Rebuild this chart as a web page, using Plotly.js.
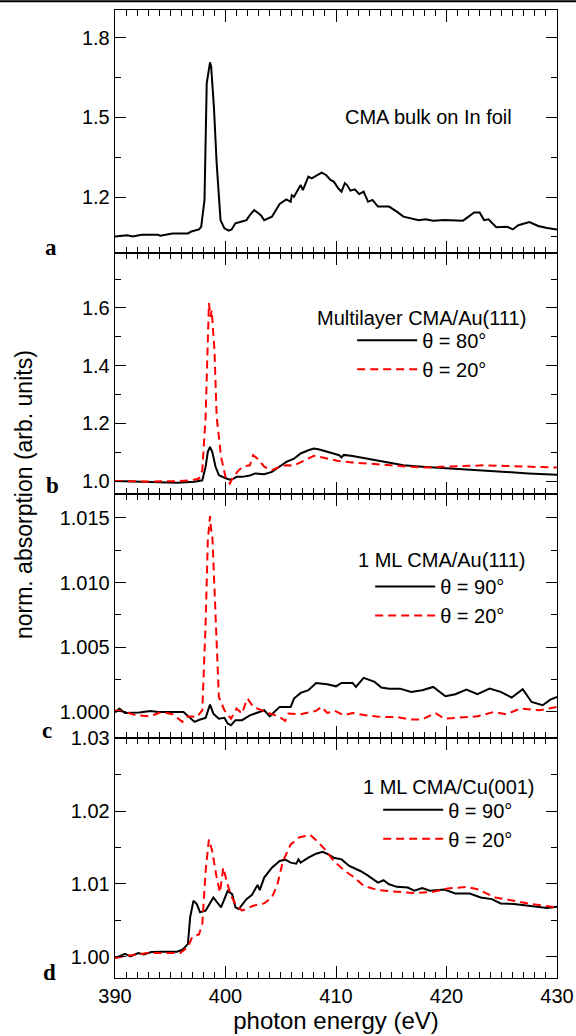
<!DOCTYPE html>
<html>
<head>
<meta charset="utf-8">
<script src="https://cdn.plot.ly/plotly-3.0.1.min.js"></script>
<style>html,body{margin:0;padding:0;background:#fff;}#chart{width:576px;height:1036px;}</style>
</head>
<body>
<div id="chart"></div>
<script>
// ---------- Panel a: CMA bulk on In foil ----------
const aX = [390,391.1,391.6,392.4,393.9,394.1,395.2,396.6,396.9,397.6,397.8,398.1,398.3,398.6,398.7,398.95,399.2,399.4,399.55,399.9,400.3,400.55,400.9,401.4,401.9,402.2,402.6,403.2,403.5,404.2,404.9,405.5,405.9,406.0,406.2,406.8,407.0,407.5,407.8,408.7,409.1,409.5,409.8,410.2,410.5,410.8,411.0,411.3,411.7,412.1,412.5,412.9,413.3,413.8,414.8,415.5,416.1,417.5,418.1,418.8,419.8,421.5,422.1,422.5,423.0,423.4,423.8,424.5,425.5,426.0,426.5,427.5,428.3,429.1,430];
const aY = [1.051,1.056,1.051,1.058,1.058,1.054,1.063,1.063,1.070,1.078,1.088,1.189,1.628,1.707,1.691,1.540,1.327,1.189,1.113,1.082,1.073,1.078,1.101,1.107,1.113,1.132,1.151,1.132,1.113,1.126,1.174,1.191,1.182,1.207,1.201,1.245,1.226,1.277,1.270,1.292,1.283,1.264,1.258,1.233,1.220,1.252,1.245,1.224,1.229,1.211,1.220,1.182,1.189,1.164,1.164,1.145,1.126,1.113,1.116,1.111,1.113,1.111,1.129,1.142,1.142,1.113,1.116,1.086,1.088,1.078,1.094,1.106,1.091,1.083,1.078];

// ---------- Panel b: Multilayer CMA/Au(111) ----------
const bSolidX = [390,392.9,395.6,397.2,397.9,398.2,398.4,398.6,398.8,399.1,399.4,399.9,400.4,400.7,401.0,401.5,402.2,402.7,403.5,404.2,404.9,405.5,406.2,406.8,407.5,408.0,408.5,409.5,410.3,410.5,410.7,411.5,412.8,414.5,416.1,417.8,420.1,422.8,425.4,427.4,430];
const bSolidY = [1.001,0.999,0.995,0.998,1.003,1.050,1.102,1.119,1.102,1.050,1.021,1.012,1.005,1.008,1.015,1.015,1.020,1.027,1.024,1.032,1.052,1.067,1.078,1.096,1.107,1.113,1.110,1.100,1.090,1.082,1.091,1.087,1.078,1.067,1.055,1.050,1.045,1.040,1.032,1.027,1.022];
const bDashX = [390,392.9,395.6,396.9,397.6,397.9,398.2,398.4,398.5,398.65,398.75,399.0,399.2,399.6,400.0,400.4,400.7,401.2,401.7,402.2,402.5,402.9,403.5,404.2,404.9,405.5,406.2,407.2,408.0,408.8,410.2,411.5,412.8,414.5,416.1,417.8,419.5,421.5,423.5,425.4,427.4,430];
const bDashY = [1.001,0.999,1.000,1.003,1.009,1.038,1.223,1.454,1.617,1.569,1.592,1.454,1.223,1.084,1.015,0.992,1.015,1.038,1.052,1.055,1.090,1.078,1.050,1.038,1.050,1.055,1.054,1.073,1.088,1.082,1.070,1.065,1.061,1.055,1.050,1.047,1.050,1.052,1.055,1.053,1.050,1.047];

// ---------- Panel c: 1 ML CMA/Au(111) ----------
const cSolidX = [390,390.4,390.9,392.2,393.2,393.9,396.2,396.6,397.2,397.7,398.2,398.6,398.9,399.4,399.9,400.2,400.5,400.9,401.5,402.2,402.9,403.5,404.0,404.9,405.9,406.2,406.8,407.5,408.2,409.2,410.0,410.5,411.5,411.8,412.5,413.5,414.1,414.8,415.8,416.8,417.8,418.8,419.9,420.8,421.8,422.8,423.9,424.9,425.9,426.9,427.7,428.7,429.4,430];
const cSolidY = [0.99995,1.00026,0.99992,0.99995,1.00008,1.0,1.0,0.99966,0.99923,0.99941,0.99954,1.00057,0.99987,0.99948,0.99954,0.9991,0.99897,0.99936,0.99936,0.99974,0.99992,1.00013,0.99966,1.00039,1.00039,1.00103,1.00147,1.00168,1.00224,1.00214,1.00198,1.00224,1.00224,1.00193,1.00263,1.00232,1.00188,1.0018,1.0018,1.00155,1.00168,1.00193,1.00121,1.00137,1.00173,1.00137,1.0018,1.00155,1.00111,1.00175,1.00077,1.00052,1.00095,1.00116];
const cDashX = [390,390.9,391.9,393.2,394.2,395.2,396.1,396.6,397.4,397.9,398.2,398.4,398.6,398.7,398.8,399.1,399.4,399.9,400.5,401.0,401.5,401.8,402.0,402.5,403.2,403.9,404.9,405.4,405.7,406.8,408.2,408.7,409.2,409.9,410.7,411.5,412.8,414.1,415.5,416.8,417.8,419.0,419.8,421.5,422.8,424.3,425.4,426.7,428.4,430];
const cDashY = [1.00013,1.0,0.99974,0.99966,1.0,0.99982,0.99923,0.99966,0.99961,1.00013,1.00683,1.01327,1.01513,1.01405,1.01379,1.00683,1.00116,1.00013,0.99948,1.00026,0.99987,1.00064,1.00103,1.00039,1.00013,0.99992,0.99961,0.9993,0.99987,0.99982,1.00008,1.00039,0.99992,1.00008,0.99974,0.99992,0.99972,0.99961,0.99961,0.99941,0.99941,0.99992,0.99948,0.99956,0.99966,1.0,0.99982,1.00026,1.00013,1.00039];

// ---------- Panel d: 1 ML CMA/Cu(001) ----------
const dSolidX = [390,390.9,391.4,392.1,392.6,393.3,394.2,395.6,396.1,396.6,396.8,397.1,397.4,397.7,398.2,398.9,399.6,400.2,400.6,400.9,401.2,401.9,402.4,402.9,403.1,403.5,404.2,404.9,405.4,405.9,406.4,406.6,406.8,407.5,408.2,408.8,409.3,409.8,410.5,411.2,412.2,412.8,413.8,414.3,414.8,415.5,416.5,417.1,417.8,418.5,419.8,420.8,422.1,423.1,424.1,424.9,426.1,427.4,429.1,430];
const dSolidY = [0.99982,1.00041,1.00005,1.0005,1.00032,1.00064,1.00068,1.00068,1.00095,1.00177,1.00541,1.00768,1.00723,1.00609,1.00632,1.00814,1.00677,1.00905,1.00859,1.00677,1.00655,1.00791,1.0085,1.00986,1.00914,1.01086,1.01223,1.01314,1.01332,1.01291,1.01277,1.01336,1.01291,1.01359,1.01414,1.01441,1.01405,1.01359,1.01336,1.01245,1.01177,1.01123,1.01018,1.0105,1.00995,1.00959,1.0095,1.00905,1.00941,1.00905,1.00923,1.00868,1.00868,1.00814,1.00791,1.00732,1.00723,1.007,1.00668,1.00686];
const dDashX = [390,391.3,392.9,394.6,395.9,396.6,397.0,397.6,397.9,398.2,398.5,398.8,399.2,399.5,399.8,400.1,400.5,401.0,401.5,402.5,403.5,404.2,404.7,405.2,405.9,406.7,407.7,408.3,409.0,409.8,410.8,411.6,412.5,413.8,415.5,417.1,418.8,420.1,421.8,422.8,424.4,426.1,427.7,430];
const dDashY = [0.99982,1.00018,1.0005,1.00055,1.0005,1.00132,1.00277,1.00305,1.0045,1.01177,1.01609,1.0145,1.01086,1.00882,1.01223,1.01041,1.00836,1.007,1.00632,1.007,1.00732,1.00814,1.00995,1.01314,1.01541,1.01641,1.01668,1.01586,1.01473,1.01314,1.01177,1.01095,1.00973,1.00914,1.00895,1.00873,1.00891,1.00936,1.00959,1.00927,1.00814,1.00768,1.00723,1.00677];

// tick labels / texts
const xTickVals = [390,400,410,420,430];
const panelLabels = ['a','b','c','d'];
const panelTitles = ['CMA bulk on In foil','Multilayer CMA/Au(111)','1 ML CMA/Au(111)','1 ML CMA/Cu(001)'];
const legendNames = {b:['θ = 80°','θ = 20°'], c:['θ = 90°','θ = 20°'], d:['θ = 90°','θ = 20°']};

const FONT = 'Liberation Sans, Arial, Helvetica, sans-serif';
const SERIF = 'Liberation Serif, Times New Roman, serif';
const TICKFONT = {family: FONT, size: 20, color: '#000'};
const solid = {color:'#000', width:2};
const dashed = {color:'#ff0000', width:2, dash:'8px,5px'};

const traces = [
  {x:aX, y:aY, xaxis:'x4', yaxis:'y4', mode:'lines', line:solid, showlegend:false},
  {x:bSolidX, y:bSolidY, xaxis:'x3', yaxis:'y3', mode:'lines', line:solid, name:legendNames.b[0], legend:'legend'},
  {x:bDashX, y:bDashY, xaxis:'x3', yaxis:'y3', mode:'lines', line:dashed, name:legendNames.b[1], legend:'legend'},
  {x:cSolidX, y:cSolidY, xaxis:'x2', yaxis:'y2', mode:'lines', line:solid, name:legendNames.c[0], legend:'legend2'},
  {x:cDashX, y:cDashY, xaxis:'x2', yaxis:'y2', mode:'lines', line:dashed, name:legendNames.c[1], legend:'legend2'},
  {x:dSolidX, y:dSolidY, xaxis:'x', yaxis:'y', mode:'lines', line:solid, name:legendNames.d[0], legend:'legend3'},
  {x:dDashX, y:dDashY, xaxis:'x', yaxis:'y', mode:'lines', line:dashed, name:legendNames.d[1], legend:'legend3'}
];

function xa(anchor, showLabels){
  return {
    anchor: anchor, range:[390,430], tickvals:xTickVals, showticklabels: showLabels,
    ticks:'inside', ticklen:12, tickwidth:1, tickcolor:'#000',
    minor:{dtick:1, tick0:390, ticks:'inside', ticklen:6, tickwidth:1, tickcolor:'#000'},
    showline:true, linewidth:1.3, linecolor:'#000', mirror:'ticks',
    showgrid:false, zeroline:false, tickfont:TICKFONT, fixedrange:true, automargin:false
  };
}
function ya(domain, range, dtick, tick0, minorD, fmt){
  return {
    domain: domain, range: range, dtick: dtick, tick0: tick0, tickformat: fmt,
    ticks:'inside', ticklen:11, tickwidth:1, tickcolor:'#000',
    minor:{dtick:minorD, tick0:tick0, ticks:'inside', ticklen:6, tickwidth:1, tickcolor:'#000'},
    showline:true, linewidth:1.3, linecolor:'#000', mirror:'ticks',
    showgrid:false, zeroline:false, tickfont:TICKFONT, fixedrange:true, automargin:false
  };
}
function leg(x, y){
  return {x:x, y:y, xanchor:'left', yanchor:'top', bgcolor:'rgba(0,0,0,0)', borderwidth:0,
          itemwidth:60, font:{family:FONT, size:20, color:'#000'}, tracegroupgap:0};
}
function txt(t, px, py, size, fam){
  return {text:t, xref:'paper', yref:'paper', x:(px-115)/441.7, y:(977.7-py)/967.7,
          xanchor:'center', yanchor:'middle', showarrow:false, font:{family:fam||FONT, size:size||20, color:'#000'}};
}

const layout = {
  width:576, height:1036,
  margin:{l:115, r:19, t:10, b:58, autoexpand:false},
  paper_bgcolor:'#fff', plot_bgcolor:'#fff',
  font:{family:FONT, size:20, color:'#000'},
  xaxis: Object.assign(xa('y', true), {title:{text:'photon energy (eV)', font:{family:FONT, size:24}, standoff:1}}),
  xaxis2: xa('y2', false),
  xaxis3: xa('y3', false),
  xaxis4: xa('y4', false),
  yaxis:  ya([0, 0.248], [0.99708, 1.03003], 0.01, 1.0, 0.005, '.2f'),
  yaxis2: ya([0.248, 0.4998], [0.99799, 1.01683], 0.005, 1.0, 0.0025, '.3f'),
  yaxis3: ya([0.4998, 0.7489], [0.955, 1.79], 0.2, 1.0, 0.1, '.1f'),
  yaxis4: ya([0.7489, 1], [0.989, 1.904], 0.3, 1.2, 0.15, '.1f'),
  legend:  leg(0.5366, 0.679),
  legend2: leg(0.5773, 0.4247),
  legend3: leg(0.5954, 0.1939),
  annotations: [
    txt(panelTitles[0], 428, 117),
    txt(panelTitles[1], 421.5, 317.7),
    txt(panelTitles[2], 441, 560),
    txt(panelTitles[3], 448.5, 786.7),
    Object.assign(txt('norm. absorption (arb. units)', 24, 494, 23), {textangle:-90}),
    txt('<b>'+panelLabels[0]+'</b>', 51, 247, 23, SERIF),
    txt('<b>'+panelLabels[1]+'</b>', 53, 485, 23, SERIF),
    txt('<b>'+panelLabels[2]+'</b>', 47, 730, 23, SERIF),
    txt('<b>'+panelLabels[3]+'</b>', 50, 972, 23, SERIF)
  ],
  shapes: [
    {type:'line', xref:'paper', yref:'paper', x0:-115/441.7, x1:1+19.3/441.7, y0:1+8.8/967.7, y1:1+8.8/967.7, line:{color:'#000', width:2}}
  ]
};

Plotly.newPlot('chart', traces, layout, {staticPlot:true, displayModeBar:false});
</script>
</body>
</html>
